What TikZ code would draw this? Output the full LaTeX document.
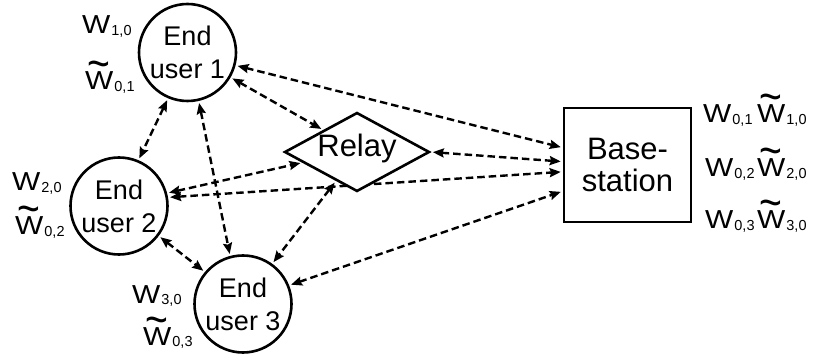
\documentclass[tikz,border=0pt]{standalone}
\usepackage{graphicx}
\usepackage{fontspec}
\setmainfont{Liberation Sans}
\usetikzlibrary{shapes.geometric,arrows.meta,backgrounds}
\newcommand\wsub[1]{\kern1pt\raisebox{-1.5pt}{\fontsize{14.5}{14.5}\selectfont #1}}
\newcommand\wglyph{\scalebox{1.15}[1]{W}}
\newcommand\wl[1]{\wglyph\wsub{#1}}
\newcommand\twl[1]{\leavevmode\rlap{\hbox to 28pt{\hss\raisebox{10pt}[0pt][0pt]{\scalebox{1.5}[1.8]{\textasciitilde}}\hss}}\wglyph\wsub{#1}}
\begin{document}
\begin{tikzpicture}[x=1pt,y=-1pt,
  user/.style={circle,draw,fill=white,line width=2.6pt,minimum size=97pt,inner sep=0pt,align=center,font=\fontsize{27}{33}\selectfont},
  relaybox/.style={diamond,draw,fill=white,line width=2.6pt,inner sep=0pt,aspect=1.83,minimum width=145pt,minimum height=79pt},
  bsbox/.style={rectangle,draw,fill=white,line width=2.6pt,minimum width=127pt,minimum height=114pt,inner sep=0pt,align=center,font=\fontsize{31}{32}\selectfont},
  link/.style={line width=2.4pt,dash pattern=on 7.5pt off 4pt,{Stealth[length=11pt,width=9pt,inset=1.5pt]}-{Stealth[length=11pt,width=9pt,inset=1.5pt]},shorten <=2pt,shorten >=2pt},
  wlab/.style={anchor=base west,inner sep=0pt,font=\fontsize{26}{30}\selectfont}]
\useasboundingbox (0,0) rectangle (829,355);
% nodes
\node[user] (eu1) at (187.5,52.5) {End\\user 1};
\node[user] (eu2) at (119,206) {End\\user 2};
\node[user] (eu3) at (243,304) {End\\user 3};
\node[relaybox] (relay) at (357,152) {};
\node[font=\fontsize{31}{36}\selectfont,inner sep=0pt] (relaytext) at (357,148) {Relay};
\node[bsbox] (bs) at (627.5,165) {Base-\\station};
% connectors
\begin{scope}[on background layer]
\draw[link] (eu1.-15) -- (bs.165);
\draw[link] (eu1.-30) -- (relay.147);
\draw[link] (eu1.-113) -- (eu2.67);
\draw[link] (eu1.-77) -- (eu3.105);
\draw[link] (eu2.15) -- (relay.191);
\draw[link] (eu2.10) -- (bs.186);
\draw[link] (eu2.-37) -- (eu3.140);
\draw[link] (relay.east) -- (bs.177);
\draw[link] (relay.234) -- (eu3.54);
\draw[link] (eu3.22) -- (bs.202);
\end{scope}
% labels
\node[wlab] (w10a) at (82,34) {\wl{1,0}};
\node[wlab] (t01a) at (85,90) {\twl{0,1}};
\node[wlab] (w20a) at (12,191) {\wl{2,0}};
\node[wlab] (t02a) at (15,235) {\twl{0,2}};
\node[wlab] (w30a) at (132,303) {\wl{3,0}};
\node[wlab] (t03a) at (143,345) {\twl{0,3}};
\node[wlab] (w01b) at (703,123) {\wl{0,1}};
\node[wlab] (t10b) at (757,123) {\twl{1,0}};
\node[wlab] (w02b) at (705,177) {\wl{0,2}};
\node[wlab] (t20b) at (757,177) {\twl{2,0}};
\node[wlab] (w03b) at (705,229) {\wl{0,3}};
\node[wlab] (t30b) at (757,229) {\twl{3,0}};
\end{tikzpicture}
\end{document}
